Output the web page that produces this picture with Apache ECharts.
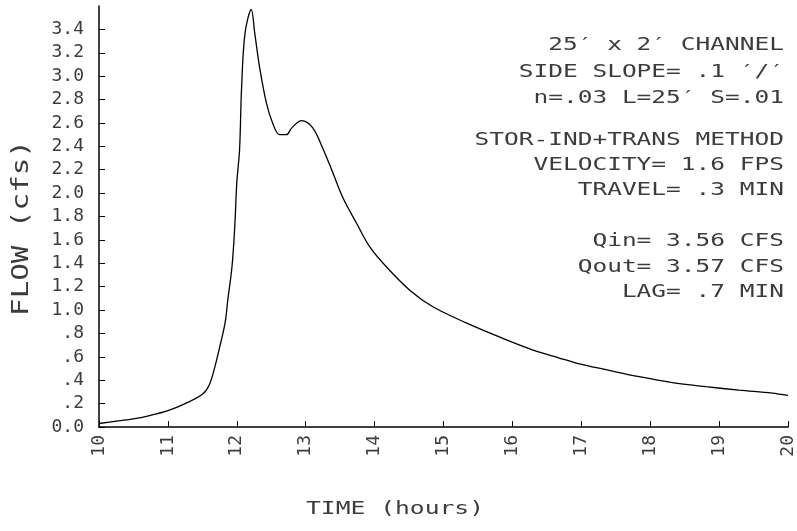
<!DOCTYPE html>
<html>
<head>
<meta charset="utf-8">
<script src="https://cdn.jsdelivr.net/npm/echarts@6/dist/echarts.min.js"></script>
<style>
html,body{margin:0;padding:0;background:#fff;}
#c{width:797px;height:531px;}
</style>
</head>
<body>
<div id="c"></div>
<script>
const times = [10.0, 10.25, 10.5, 10.75, 11.0, 11.25, 11.5, 11.6, 11.68, 11.75, 11.83, 11.87, 11.93, 11.97, 12.0, 12.04, 12.07, 12.12, 12.21, 12.26, 12.33, 12.43, 12.52, 12.62, 12.72, 12.80, 12.94, 13.10, 13.25, 13.39, 13.54, 13.74, 13.93, 14.17, 14.51, 14.84, 15.33, 15.81, 16.29, 16.68, 16.97, 17.36, 17.84, 18.32, 18.81, 19.29, 19.77, 20.0];
const flows = [0.03, 0.05, 0.07, 0.10, 0.14, 0.20, 0.28, 0.36, 0.51, 0.68, 0.89, 1.09, 1.37, 1.71, 2.09, 2.37, 2.91, 3.37, 3.57, 3.37, 3.08, 2.77, 2.60, 2.50, 2.50, 2.56, 2.62, 2.56, 2.38, 2.18, 1.96, 1.74, 1.54, 1.37, 1.17, 1.03, 0.89, 0.77, 0.66, 0.59, 0.54, 0.49, 0.43, 0.38, 0.345, 0.315, 0.29, 0.27];
const xTicks = [10, 20, 1];           // min, max, interval (hours)
const yTicks = [0, 3.6, 0.2];         // min, max, interval (cfs)
const xTitle = 'TIME (hours)';
const yTitle = 'FLOW (cfs)';
const notes = [
  '25\u2032 x 2\u2032 CHANNEL',
  'SIDE SLOPE= .1 \u2032/\u2032',
  'n=.03 L=25\u2032 S=.01',
  'STOR-IND+TRANS METHOD',
  'VELOCITY= 1.6 FPS',
  'TRAVEL= .3 MIN',
  'Qin= 3.56 CFS',
  'Qout= 3.57 CFS',
  'LAG= .7 MIN'
];

const FONT = "'DejaVu Sans Mono', 'Liberation Mono', monospace";
const TXT = '#3c3c3c';
const noteY = [45, 72, 98, 140, 165, 190, 241, 267, 292];

const chart = echarts.init(document.getElementById('c'), null, {renderer: 'canvas'});

const graphics = notes.map((t, i) => ({
  type: 'text', x: 784, y: noteY[i], scaleX: 1.36, scaleY: 1,
  style: {text: t, align: 'right', verticalAlign: 'middle', font: '18px ' + FONT, fill: TXT}
}));
graphics.push({
  type: 'text', x: 22, y: 228, rotation: Math.PI / 2, scaleX: 1.27, scaleY: 1,
  style: {text: yTitle, align: 'center', verticalAlign: 'middle', font: '23px ' + FONT, fill: TXT}
});
graphics.push({
  type: 'text', x: 395, y: 510, scaleX: 1.45, scaleY: 1,
  style: {text: xTitle, align: 'center', verticalAlign: 'middle', font: '17px ' + FONT, fill: TXT}
});

chart.setOption({
  animation: false,
  backgroundColor: '#fff',
  grid: {left: 99, right: 5, top: 6, bottom: 104, containLabel: false},
  xAxis: {
    type: 'value', min: xTicks[0], max: xTicks[1], interval: xTicks[2],
    axisLine: {show: true, lineStyle: {color: '#000', width: 1.5}},
    axisTick: {show: true, inside: true, length: 6, lineStyle: {color: '#000', width: 1}},
    axisLabel: {rotate: 90, margin: 8, fontFamily: FONT, fontSize: 18, color: TXT},
    splitLine: {show: false}
  },
  yAxis: {
    type: 'value', min: yTicks[0], max: yTicks[1], interval: yTicks[2],
    axisLine: {show: true, lineStyle: {color: '#000', width: 1.5}},
    axisTick: {show: true, inside: true, length: 6, lineStyle: {color: '#000', width: 1}},
    axisLabel: {
      margin: 15, fontFamily: FONT, fontSize: 18, color: TXT, showMaxLabel: false,
      formatter: v => {
        if (Math.abs(v) < 1e-9) return '0.0';
        if (v >= 3.5) return '';
        if (v < 1) return '.' + Math.round(v * 10);
        return v.toFixed(1);
      }
    },
    splitLine: {show: false}
  },
  series: [{
    type: 'line',
    data: times.map((t, i) => [t, flows[i]]),
    showSymbol: false,
    smooth: 0.35,
    lineStyle: {color: '#000', width: 1.3},
    silent: true
  }],
  graphic: graphics
});
</script>
</body>
</html>
